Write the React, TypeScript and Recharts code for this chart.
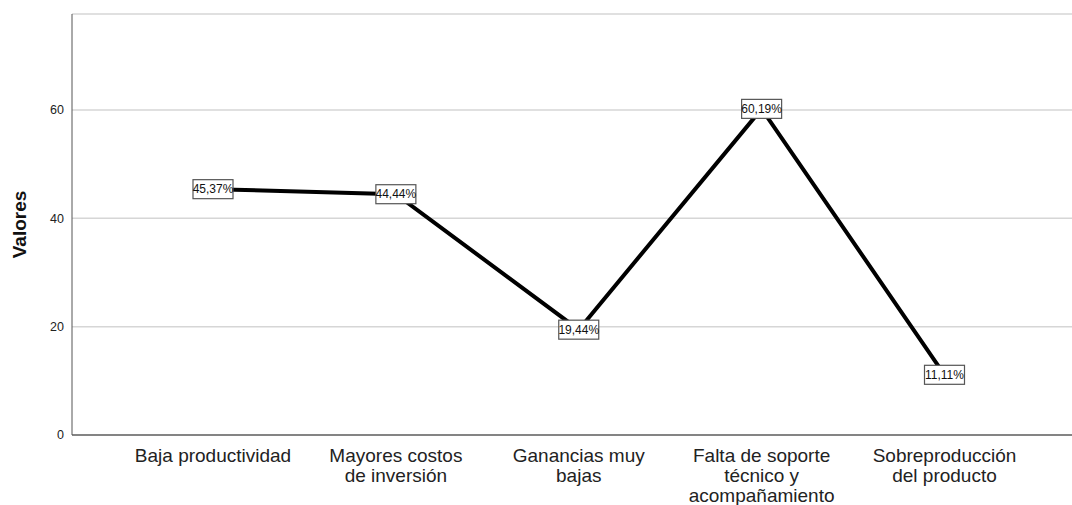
import { LineChart, Line, XAxis, YAxis, CartesianGrid } from 'recharts'

const categories = [
  'Baja productividad',
  'Mayores costos\nde inversión',
  'Ganancias muy\nbajas',
  'Falta de soporte\ntécnico y\nacompañamiento',
  'Sobreproducción\ndel producto',
]
const values = [45.37, 44.44, 19.44, 60.19, 11.11]
const yTicks = [0, 20, 40, 60]

const FONT = '"Liberation Sans", Arial, sans-serif'

const chartData = categories.map((name, i) => ({ name, value: values[i] }))

function CategoryTick({ x, y, payload }: any) {
  const lines = String(payload.value).split('\n')
  return (
    <text x={x} y={y} textAnchor="middle" fill="#222" fontSize={19} fontFamily={FONT}>
      {lines.map((line, i) => (
        <tspan key={i} x={x} dy={i === 0 ? 18.5 : 20}>
          {line}
        </tspan>
      ))}
    </text>
  )
}

function ValueLabel({ x, y, value }: any) {
  const text = value.toFixed(2).replace('.', ',') + '%'
  return (
    <g>
      <rect x={x - 20} y={y - 9.5} width={40} height={19} fill="#fff" stroke="#555" strokeWidth={1.2} />
      <text x={x} y={y + 4} textAnchor="middle" fontSize={12} fill="#111" fontFamily={FONT}>
        {text}
      </text>
    </g>
  )
}

export default function App() {
  return (
    <div style={{ position: 'absolute', left: 0, top: 0, background: '#fff' }}>
      <LineChart
        width={1072}
        height={505}
        data={chartData}
        margin={{ top: 14, right: 0, left: 0, bottom: 0 }}
      >
        <CartesianGrid vertical={false} stroke="#d6d6d6" strokeWidth={1.5} />
        <XAxis
          dataKey="name"
          interval={0}
          height={70}
          padding={{ left: 141, right: 127.5 }}
          axisLine={{ stroke: '#666', strokeWidth: 1.5 }}
          tickLine={false}
          tick={<CategoryTick />}
        />
        <YAxis
          width={72}
          domain={[0, 77.7]}
          ticks={yTicks}
          axisLine={{ stroke: '#555', strokeWidth: 1 }}
          tickLine={false}
          tick={{ fontSize: 12.5, fill: '#222', fontFamily: FONT }}
          label={{
            value: 'Valores',
            angle: -90,
            position: 'insideLeft',
            offset: 19,
            style: { fontSize: 19, fontWeight: 'bold', fill: '#111', fontFamily: FONT, textAnchor: 'middle' },
          }}
        />
        <Line
          type="linear"
          dataKey="value"
          stroke="#000"
          strokeWidth={4}
          dot={false}
          isAnimationActive={false}
          label={<ValueLabel />}
        />
      </LineChart>
    </div>
  )
}
